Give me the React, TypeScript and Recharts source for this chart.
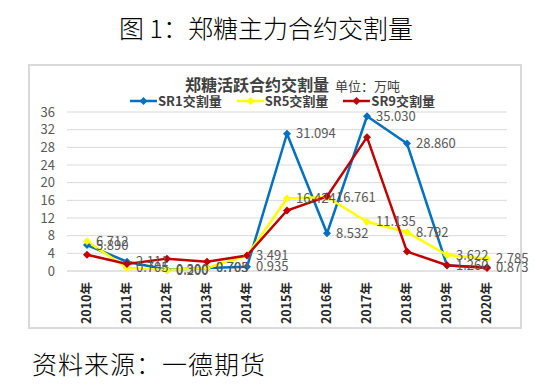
import React from 'react';
import { LineChart, Line, XAxis, YAxis, CartesianGrid } from 'recharts';

const years = ['2010年', '2011年', '2012年', '2013年', '2014年', '2015年', '2016年', '2017年', '2018年', '2019年', '2020年'];
const seriesNames = ['SR1交割量', 'SR5交割量', 'SR9交割量'];
const sr1 = [5.89, 2.111, 0.3, 0.703, 0.935, 31.094, 8.532, 35.03, 28.86, 1.26, 0.873];
const sr5 = [6.712, 0.705, 0.2, 0.705, 3.491, 16.424, 16.761, 11.135, 8.792, 3.622, 2.785];
const sr9 = [3.7, 1.6, 2.8, 2.1, 3.5, 13.7, 16.9, 30.3, 4.4, 1.3, 0.7];
const yTicks = [0, 4, 8, 12, 16, 20, 24, 28, 32, 36];

const colors = ['#0070C0', '#FFFF00', '#C00000'];
const keys = ['sr1', 'sr5', 'sr9'];
const showLabels = [true, true, false];

const data = years.map((y, i) => ({ year: y, sr1: sr1[i], sr5: sr5[i], sr9: sr9[i] }));

const FONT = '"Noto Sans CJK SC", "Noto Sans", sans-serif';

const makeDot = (color: string) => (p: any) => {
  const { cx, cy, index } = p;
  if (cx == null || cy == null) return <g key={`d-${index}`} />;
  const r = 4;
  return (
    <polygon
      key={`d-${index}`}
      points={`${cx},${cy - r} ${cx + r},${cy} ${cx},${cy + r} ${cx - r},${cy}`}
      fill={color}
    />
  );
};

const makeLabel = (p: any) => {
  const { x, y, value, index } = p;
  if (x == null || y == null) return <g key={`l-${index}`} />;
  return (
    <text
      key={`l-${index}`}
      x={x + 9}
      y={y}
      dy="0.35em"
      fill="#595959"
      fontSize={13}
      fontFamily={FONT}
    >
      {Number(value).toFixed(3)}
    </text>
  );
};

const XTick = (p: any) => {
  const { x, y, payload } = p;
  return (
    <g transform={`translate(${x},${y})`}>
      <text
        transform="rotate(-90)"
        x={-3}
        y={0}
        dy="0.35em"
        textAnchor="end"
        fill="#262626"
        fontSize={12.5}
        fontWeight="bold"
        fontFamily={FONT}
      >
        {payload.value}
      </text>
    </g>
  );
};

const LegendItem = ({ name, color }: { name: string; color: string }) => (
  <div style={{ display: 'flex', alignItems: 'center', marginRight: 15 }}>
    <svg width={27} height={10} style={{ display: 'block' }}>
      <line x1={0} y1={5} x2={27} y2={5} stroke={color} strokeWidth={2.5} />
      <polygon points="13.5,1 17.5,5 13.5,9 9.5,5" fill={color} />
    </svg>
    <span style={{ fontSize: 13, fontWeight: 'bold', color: '#404040', marginLeft: 1, lineHeight: '14px' }}>{name}</span>
  </div>
);

export default function App() {
  return (
    <div style={{ position: 'absolute', left: 0, top: 0, width: 542, height: 386, background: '#fff', fontFamily: FONT }}>
      <div
        style={{
          position: 'absolute',
          left: 0,
          width: 532,
          top: 10,
          textAlign: 'center',
          fontSize: 25,
          fontFamily: '"Noto Sans CJK SC", serif',
          fontWeight: 300,
          color: '#000',
          lineHeight: '34px',
        }}
      >
        图 1：郑糖主力合约交割量
      </div>
      <div
        style={{
          position: 'absolute',
          left: 28,
          top: 64,
          width: 490,
          height: 261,
          border: '2px solid #d9d9d9',
        }}
      />
      <div style={{ position: 'absolute', left: 185, top: 72, whiteSpace: 'nowrap', display: 'flex', alignItems: 'baseline' }}>
        <span style={{ fontSize: 16, fontWeight: 'bold', color: '#404040' }}>郑糖活跃合约交割量</span>
        <span style={{ fontSize: 13, color: '#404040', marginLeft: 6 }}>单位：万吨</span>
      </div>
      <div style={{ position: 'absolute', left: 130, top: 94, display: 'flex', whiteSpace: 'nowrap' }}>
        {seriesNames.map((n, i) => (
          <LegendItem key={n} name={n} color={colors[i]} />
        ))}
      </div>
      <div style={{ position: 'absolute', left: 0, top: 0 }}>
        <LineChart width={542} height={331} data={data} margin={{ top: 112, right: 35, bottom: 0, left: 0 }}>
          <CartesianGrid vertical={false} stroke="#d9d9d9" strokeWidth={1} />
          <XAxis
            dataKey="year"
            padding={{ left: 20, right: 20 }}
            axisLine={{ stroke: '#d9d9d9' }}
            tickLine={false}
            interval={0}
            height={60}
            tick={<XTick />}
          />
          <YAxis
            domain={[0, 36]}
            ticks={yTicks}
            interval={0}
            axisLine={false}
            tickLine={false}
            width={67}
            tickMargin={6}
            tick={{ fill: '#595959', fontSize: 13, fontFamily: FONT }}
          />
          {keys.map((k, i) => (
            <Line
              key={k}
              type="linear"
              dataKey={k}
              name={seriesNames[i]}
              stroke={colors[i]}
              strokeWidth={2.5}
              dot={makeDot(colors[i])}
              activeDot={false}
              isAnimationActive={false}
              label={showLabels[i] ? makeLabel : false}
            />
          ))}
        </LineChart>
      </div>
      <div
        style={{
          position: 'absolute',
          left: 32,
          top: 346,
          fontSize: 25,
          fontFamily: '"Noto Sans CJK SC", serif',
          fontWeight: 300,
          color: '#000',
          lineHeight: '34px',
          letterSpacing: 1,
        }}
      >
        资料来源：一德期货
      </div>
    </div>
  );
}
